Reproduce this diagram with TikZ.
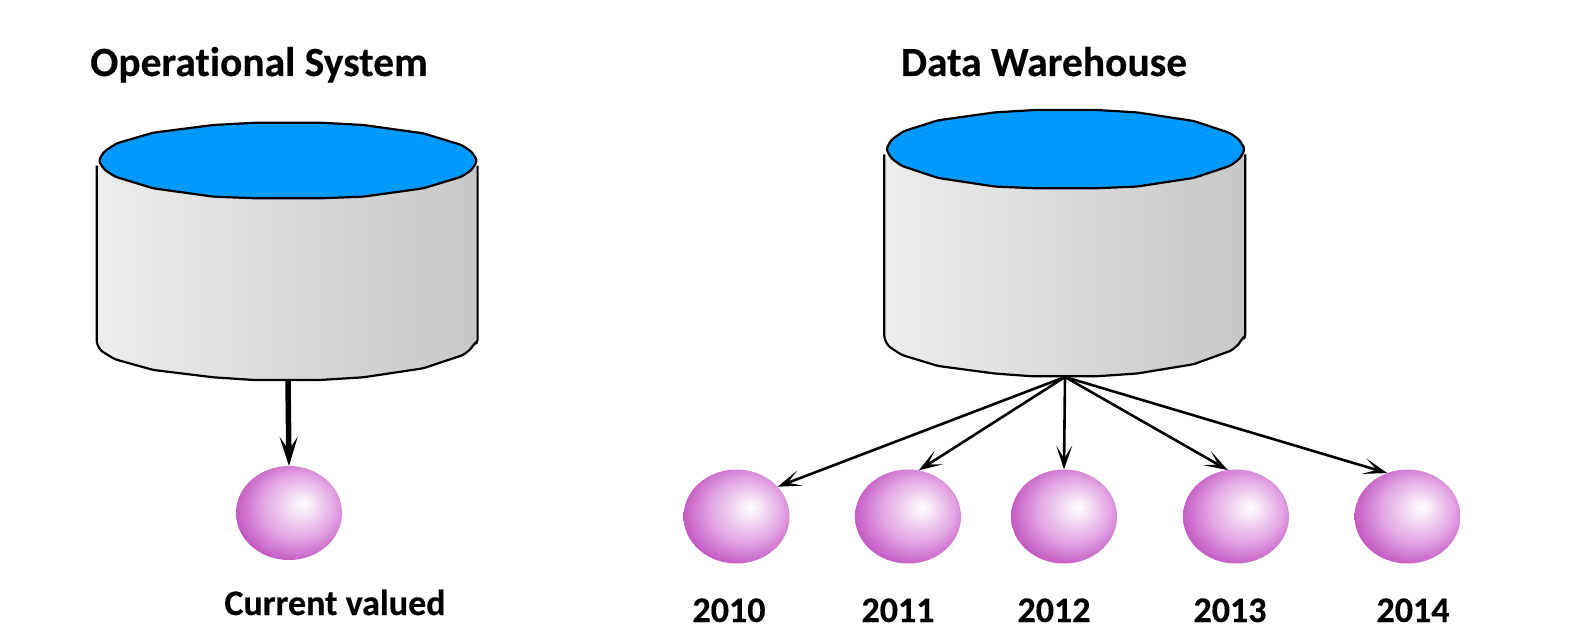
\documentclass[tikz,border=0pt]{standalone}
\usepackage{fontspec}
\setmainfont{Carlito}[BoldFont={Carlito Bold},BoldFeatures={FakeBold=0.35},Ligatures=NoCommon]
\usetikzlibrary{arrows.meta,shapes.geometric}
\definecolor{sphA}{RGB}{246,230,246}
\definecolor{sphB}{RGB}{226,165,226}
\definecolor{sphC}{RGB}{186,66,186}
\definecolor{topblue}{RGB}{0,153,255}
\definecolor{sideL}{RGB}{237,237,237}
\definecolor{sideR}{RGB}{199,199,199}
\pgfdeclareradialshading{sph}{\pgfpoint{7bp}{5bp}}{%
  color(0bp)=(white);
  color(5bp)=(sphA);
  color(17bp)=(sphB);
  color(32bp)=(sphC);
  color(50bp)=(sphC)}
\tikzset{
  sphere/.style={ellipse,inner sep=0pt,outer sep=0pt,minimum width=106pt,minimum height=94pt,shade,shading=sph},
  heading/.style={inner sep=0pt,anchor=base,font=\fontsize{41.5}{46}\selectfont\bfseries},
  caption/.style={inner sep=0pt,anchor=base,font=\fontsize{36}{40}\selectfont\bfseries},
  thin arrow/.style={line width=2.6pt,-{Stealth[length=24pt,width=16pt,inset=13pt]}},
  thick arrow/.style={line width=5.5pt,-{Stealth[length=29pt,width=18pt,inset=13pt]}},
  edge line/.style={line width=2.2pt,line join=round,rounded corners=3pt},
  pics/drum/.style={code={
    % local coordinates: zoom pixels of the left drum
    \path[left color=sideL,right color=sideR]
      (50,197)--(50,730)--(62,752)--(105,778)--(220,810)--(400,832)--(520,840)--(720,840)--(850,832)--(1030,805)--(1150,765)--(1175,745)--(1182,730)--(1193,728)--(1193,197)--cycle;
    \draw[edge line]
      (50,197)--(50,730)--(62,752)--(105,778)--(220,810)--(400,832)--(520,840)--(720,840)--(850,832)--(1030,805)--(1150,765)--(1175,745)--(1182,730)--(1193,728)--(1193,197);
    \draw[edge line,fill=topblue]
      (56,182)--(72,155)--(110,130)--(220,98)--(400,75)--(530,68)--(720,68)--(850,75)--(1030,100)--(1145,135)--(1175,155)--(1192,182)--(1175,210)--(1145,230)--(1030,265)--(850,290)--(720,295)--(530,295)--(400,290)--(220,265)--(105,230)--(72,208)--cycle;
  }}
}
\begin{document}
\begin{tikzpicture}[x=1pt,y=-1pt]
\useasboundingbox (0,0) rectangle (1588,642);
\begin{scope}[shift={(80,100)},x=0.3333pt,y=-0.3333pt]
\pic at (0,0) {drum};
\end{scope}
\begin{scope}[shift={(868.5,86.5)},x=0.3158pt,y=-0.345pt]
\pic at (0,0) {drum};
\end{scope}
\coordinate (opbase) at (288,381);
\coordinate (dwbase) at (1065,377);
\node[heading] (optitle) at (259,76) {Operational System};
\node[heading] (dwtitle) at (1044,76) {Data Warehouse};
\node[sphere] (cur) at (289,513) {};
\node[sphere] (s2010) at (736.5,516.5) {};
\node[sphere] (s2011) at (908,516.5) {};
\node[sphere] (s2012) at (1064,516.5) {};
\node[sphere] (s2013) at (1236,516.5) {};
\node[sphere] (s2014) at (1407.5,516.5) {};
\node[caption] (curlabel) at (335,615) {Current valued};
\node[caption] (y2010) at (729,622) {2010};
\node[caption] (y2011) at (898,622) {2011};
\node[caption] (y2012) at (1054,622) {2012};
\node[caption] (y2013) at (1230,622) {2013};
\node[caption] (y2014) at (1413,622) {2014};
\draw[thick arrow] (opbase) -- (cur.north);
\draw[thin arrow] (dwbase) -- (s2010.36);
\draw[thin arrow] (dwbase) -- (s2011.77);
\draw[thin arrow] (dwbase) -- (s2012.90);
\draw[thin arrow] (dwbase) -- (s2013.100);
\draw[thin arrow] (dwbase) -- (s2014.115);
\end{tikzpicture}
\end{document}
